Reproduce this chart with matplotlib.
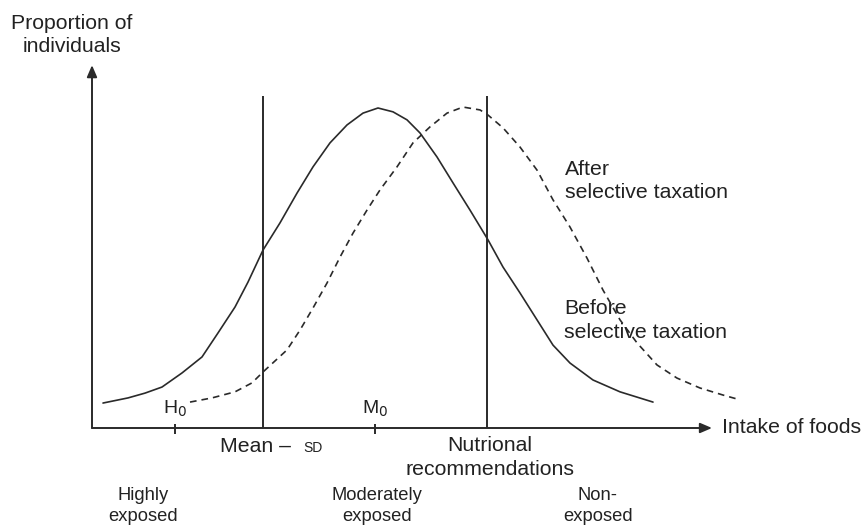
import matplotlib
matplotlib.use("Agg")
import matplotlib.pyplot as plt

plt.rcParams['font.family'] = ['Liberation Sans', 'DejaVu Sans']

# ---- data (arbitrary intake units, proportion relative to peak) ----
before_intake = [1.1, 3.6, 5.3, 7.0, 9.0, 11.0, 12.6, 14.3, 15.6, 17.1, 18.8, 20.5, 22.1, 23.8,
                 25.5, 27.1, 28.6, 30.1, 31.5, 32.8, 34.5, 36.1, 37.8, 39.6, 41.1, 42.8, 44.5,
                 46.1, 47.8, 50.1, 52.8, 56.1]
before_prop = [0.078, 0.094, 0.109, 0.128, 0.172, 0.222, 0.297, 0.378, 0.456, 0.556, 0.641, 0.734,
               0.816, 0.891, 0.947, 0.984, 1.000, 0.988, 0.963, 0.922, 0.847, 0.766, 0.681, 0.588,
               0.503, 0.422, 0.338, 0.259, 0.203, 0.150, 0.113, 0.081]

after_intake = [9.8, 12.0, 14.3, 16.0, 17.1, 19.5, 20.8, 22.1, 23.5, 24.8, 26.1, 27.5, 28.8, 30.5,
                32.1, 33.8, 35.5, 37.1, 38.8, 39.6, 41.1, 42.8, 44.5, 46.1, 47.8, 49.5, 51.1, 52.8,
                54.5, 56.5, 58.5, 60.8, 63.1, 64.8]
after_prop = [0.081, 0.094, 0.113, 0.141, 0.175, 0.244, 0.306, 0.375, 0.453, 0.534, 0.609, 0.681,
              0.744, 0.816, 0.891, 0.941, 0.984, 1.003, 0.994, 0.978, 0.938, 0.878, 0.806, 0.713,
              0.628, 0.531, 0.431, 0.338, 0.266, 0.197, 0.156, 0.125, 0.103, 0.088]

ref_lines = [17.1, 39.5]          # Mean - SD, Nutritional recommendations
ref_top = 1.0375
tick_pos = [8.3, 28.3]            # H0, M0
tick_labels = [r"H$_0$", r"M$_0$"]
exposure_labels = ["Highly\nexposed", "Moderately\nexposed", "Non-\nexposed"]
exposure_pos = [5.1, 28.5, 50.6]

INK = "#2a2a2a"
TXT = "#222222"

fig = plt.figure(figsize=(8.61, 5.26), dpi=100)
ax = fig.add_axes([0, 0, 1, 1])
ax.set_xlim(-9.2, 76.9)
ax.set_ylim(-0.30625, 1.3375)
ax.axis('off')

# curves
ax.plot(before_intake, before_prop, color=INK, lw=1.2, solid_joinstyle='round',
        solid_capstyle='round')
ax.plot(after_intake, after_prop, color=INK, lw=1.2, linestyle=(0, (4, 3)))

# reference lines
ax.vlines(ref_lines, 0, ref_top, color=INK, lw=1.4)

# axes with arrows
ax.annotate("", xy=(0, 1.134), xytext=(0, 0),
            arrowprops=dict(arrowstyle='-|>,head_length=0.7,head_width=0.3', color=INK, lw=1.4,
                            shrinkA=0, shrinkB=0))
ax.annotate("", xy=(62.0, 0), xytext=(0, 0),
            arrowprops=dict(arrowstyle='-|>,head_length=0.7,head_width=0.3', color=INK, lw=1.4,
                            shrinkA=0, shrinkB=0))

# ticks
ax.vlines(tick_pos, -0.019, 0.0125, color=INK, lw=1.4)
for xp, lab in zip(tick_pos, tick_labels):
    ax.text(xp, 0.059, lab, ha='center', va='center', fontsize=14, color=TXT)

# texts
ax.text(-2.0, 1.228, "Proportion of\nindividuals", ha='center', va='center',
        fontsize=15.3, color=TXT, linespacing=1.28)
ax.text(47.3, 0.773, "After\nselective taxation", ha='left', va='center',
        fontsize=15.3, color=TXT, linespacing=1.28)
ax.text(47.2, 0.336, "Before\nselective taxation", ha='left', va='center',
        fontsize=15.3, color=TXT, linespacing=1.28)
ax.text(63.0, 0.003, "Intake of foods", ha='left', va='center', fontsize=15.3, color=TXT)
ax.text(12.8, -0.075, "Mean \u2013", ha='left', va='baseline', fontsize=15.3, color=TXT)
ax.text(21.1, -0.075, "SD", ha='left', va='baseline', fontsize=10, color=TXT)
ax.text(39.8, -0.092, "Nutrional\nrecommendations", ha='center', va='center',
        fontsize=15.3, color=TXT, linespacing=1.28)
for xp, lab in zip(exposure_pos, exposure_labels):
    ax.text(xp, -0.244, lab, ha='center', va='center', fontsize=13.2, color=TXT,
            linespacing=1.25)

fig.savefig("out.png", dpi=100)
